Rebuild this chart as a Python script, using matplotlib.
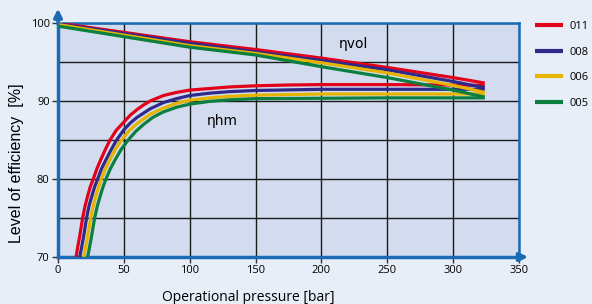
import matplotlib
matplotlib.use("Agg")
import matplotlib.pyplot as plt
import numpy as np

plt.rcParams['font.family'] = ['Open Sans', 'DejaVu Sans']

# series names and colours
names = ['011', '008', '006', '005']
colors = ['#e2001a', '#2f2a8a', '#e6b400', '#0a7f3f']

# volumetric efficiency (pressure [bar], efficiency [%])
vol_p = [0, 100, 150, 200, 250, 300, 324]
vol_eff = {
    '011': [100.0, 97.6, 96.6, 95.5, 94.3, 93.0, 92.3],
    '008': [99.9, 97.4, 96.3, 95.2, 94.0, 92.5, 91.7],
    '006': [99.8, 97.1, 96.1, 94.9, 93.6, 92.0, 91.1],
    '005': [99.6, 96.9, 95.9, 94.4, 93.0, 91.4, 90.5],
}

# hydromechanical efficiency
hm_p = {
    '011': [13.7, 15, 16.5, 18.7, 20.5, 22.5, 24.5, 26.8, 29.5, 32.5, 36, 39.5, 44, 50, 55, 60, 65, 70,
            80, 90, 100, 115, 130, 150, 175, 200, 250, 300, 324],
    '008': [16.5, 18, 19.5, 21.7, 23.5, 25.7, 27.8, 30.1, 33, 36.5, 40.5, 44.5, 50, 55, 60, 70, 80, 90,
            100, 115, 130, 150, 200, 250, 300, 324],
    '006': [19.5, 21, 22.5, 24.8, 26.7, 28.7, 30.8, 32.9, 36, 39.5, 43.5, 48.3, 54, 60, 70, 80, 90,
            100, 115, 130, 150, 200, 250, 300, 324],
    '005': [22.5, 24, 25.5, 27.8, 29.8, 32, 34.2, 36.4, 39.7, 43.5, 48, 53.3, 59, 65, 72, 80, 90,
            100, 115, 130, 150, 200, 250, 300, 324],
}
hm_eff = {
    '011': [70, 71.3, 72.7, 75, 76.5, 77.8, 79, 80, 81.3, 82.5, 83.8, 85, 86.2, 87.3, 88.2, 88.9, 89.5, 90.0,
            90.7, 91.1, 91.4, 91.6, 91.8, 91.95, 92.05, 92.1, 92.1, 92.05, 92.0],
    '008': [70, 71.3, 72.7, 75, 76.5, 77.8, 79, 80, 81.3, 82.5, 83.8, 85, 86.3, 87.2, 87.9, 89.0, 89.8, 90.3,
            90.7, 91.0, 91.2, 91.35, 91.5, 91.5, 91.5, 91.5],
    '006': [70, 71.3, 72.7, 75, 76.5, 77.8, 79, 80, 81.3, 82.5, 83.8, 85, 86.2, 87.1, 88.3, 89.1, 89.7,
            90.1, 90.4, 90.6, 90.75, 90.9, 90.9, 90.9, 90.9],
    '005': [70, 71.3, 72.7, 75, 76.5, 77.8, 79, 80, 81.3, 82.5, 83.8, 85, 86.1, 87.0, 87.9, 88.6, 89.2,
            89.6, 89.95, 90.15, 90.3, 90.35, 90.4, 90.4, 90.4],
}

x_ticks = [0, 50, 100, 150, 200, 250, 300, 350]
y_ticks = [70, 80, 90, 100]

bg = '#e8eef8'
face = '#d3dcef'
axis_blue = '#1a6bb3'

fig = plt.figure(figsize=(5.92, 3.04), dpi=100, facecolor=bg)
ax = fig.add_axes([58/592, 47/304, 461/592, 234/304])
ax.set_facecolor(face)

ax.set_xlim(0, 350)
ax.set_ylim(70, 100)
ax.set_xticks(x_ticks)
ax.set_yticks(y_ticks)
ax.set_yticks(np.arange(70, 101, 5), minor=True)
ax.grid(True, which='both', color='#1a1a1a', lw=1.0)
ax.set_axisbelow(True)

for n, c in zip(names, colors):
    ax.plot(vol_p, vol_eff[n], color=c, lw=2.3, solid_capstyle='butt', label=n, zorder=3)
    ax.plot(hm_p[n], hm_eff[n], color=c, lw=2.3, solid_capstyle='butt', zorder=3)

ax.text(224, 97.3, 'ηvol', fontsize=10, ha='center', va='center', family=['DejaVu Sans'])
ax.text(125, 87.4, 'ηhm', fontsize=10, ha='center', va='center', family=['DejaVu Sans'])

for side in ['left', 'bottom']:
    ax.spines[side].set_color(axis_blue)
    ax.spines[side].set_linewidth(2.5)
for side in ['top', 'right']:
    ax.spines[side].set_color(axis_blue)
    ax.spines[side].set_linewidth(1.8)

# arrows on the axes
ax.annotate('', xy=(0, 102.2), xytext=(0, 99.5), xycoords='data',
            arrowprops=dict(arrowstyle='-|>', color=axis_blue, lw=2.5, mutation_scale=12),
            annotation_clip=False)
ax.annotate('', xy=(359, 70), xytext=(348, 70), xycoords='data',
            arrowprops=dict(arrowstyle='-|>', color=axis_blue, lw=2.5, mutation_scale=12),
            annotation_clip=False)

ax.tick_params(axis='both', which='major', length=4, width=1, color='#333333',
               labelsize=8, pad=2)
ax.tick_params(axis='both', which='minor', length=0)

fig.text(17/592, 141/304, 'Level of efficiency  [%]', fontsize=11.5, rotation=90,
         ha='center', va='center', family=['Liberation Sans'])
fig.text(248/592, 0.02, 'Operational pressure [bar]', fontsize=10, ha='center', va='center')

fig.legend(loc='upper left', bbox_to_anchor=(535/592, 0.93), frameon=False,
           fontsize=8, handlelength=2.5, handletextpad=0.6, labelspacing=1.3,
           borderpad=0, borderaxespad=0)
for line in fig.legends[0].get_lines():
    line.set_linewidth(3)

fig.savefig('out.png', dpi=100, facecolor=bg)
